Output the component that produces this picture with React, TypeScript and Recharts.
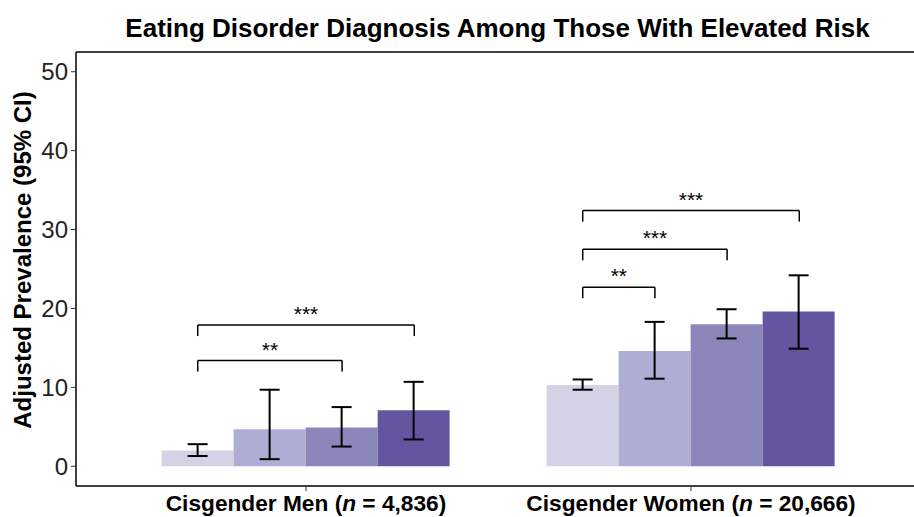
import {
  BarChart,
  Bar,
  XAxis,
  YAxis,
  ErrorBar,
  ReferenceLine,
} from "recharts";

// groups on the x axis
const categories = ["Cisgender Men", "Cisgender Women"];
const sampleSizes = ["4,836", "20,666"];

// adjusted prevalence (%) per risk group, one value per category
const group1 = [2.0, 10.3];
const group2 = [4.7, 14.6];
const group3 = [4.9, 18.0];
const group4 = [7.1, 19.6];

// 95% CI bounds
const lower1 = [1.3, 9.7];
const upper1 = [2.8, 11.0];
const lower2 = [0.9, 11.1];
const upper2 = [9.7, 18.3];
const lower3 = [2.5, 16.2];
const upper3 = [7.5, 19.9];
const lower4 = [3.4, 14.9];
const upper4 = [10.7, 24.2];

const yTicks = [0, 10, 20, 30, 40, 50];
const colors = ["#d3d3e8", "#aeaed5", "#8c87bb", "#6355a0"];

// significance brackets: category, first bar, second bar, height, stars
const brackets = [
  { cat: 0, from: 0, to: 2, y: 13.4, label: "**" },
  { cat: 0, from: 0, to: 3, y: 17.9, label: "***" },
  { cat: 1, from: 0, to: 1, y: 22.7, label: "**" },
  { cat: 1, from: 0, to: 2, y: 27.5, label: "***" },
  { cat: 1, from: 0, to: 3, y: 32.4, label: "***" },
];

const values = [group1, group2, group3, group4];
const lows = [lower1, lower2, lower3, lower4];
const highs = [upper1, upper2, upper3, upper4];

const data = categories.map((name, i) => {
  const row: Record<string, unknown> = { name, n: sampleSizes[i], pos: i + 1 };
  values.forEach((v, g) => {
    row[`g${g + 1}`] = v[i];
    row[`e${g + 1}`] = [v[i] - lows[g][i], highs[g][i] - v[i]];
  });
  return row;
});

// bars take 75% of each band, four bars side by side
const BAR_W = 0.75 / 4;
const barX = (cat: number, bar: number) => cat + 1 + (bar - 1.5) * BAR_W;
const DROP = 1.4;
const PAD = { left: 37.5, right: 30.5 };

const CatTick = (props: any) => {
  const { x, y, payload } = props;
  const n = sampleSizes[payload.index];
  return (
    <text x={x} y={y} dy={18} textAnchor="middle" fontSize={22.7} fontWeight="bold" fill="#000">
      <tspan>{payload.value} (</tspan>
      <tspan fontStyle="italic">n</tspan>
      <tspan> = {n})</tspan>
    </text>
  );
};

export default function App() {
  return (
    <div
      style={{
        position: "absolute",
        left: 0,
        top: 0,
        width: 914,
        height: 517,
        background: "#fff",
        fontFamily: '"Liberation Sans", Arial, sans-serif',
      }}
    >
      <div
        style={{
          position: "absolute",
          left: 76,
          width: 843,
          top: 13,
          textAlign: "center",
          fontSize: 26,
          fontWeight: "bold",
          lineHeight: "30px",
          color: "#000",
        }}
      >
        Eating Disorder Diagnosis Among Those With Elevated Risk
      </div>
      <BarChart
        width={914}
        height={517}
        data={data}
        margin={{ top: 52, right: 0, bottom: 0, left: 0 }}
        barCategoryGap="12.5%"
        barGap={0}
      >
        <XAxis
          dataKey="name"
          height={31}
          padding={PAD}
          tick={<CatTick />}
          tickSize={5}
          tickLine={{ stroke: "#333" }}
          axisLine={{ stroke: "#000", strokeWidth: 1.5 }}
        />
        <XAxis xAxisId="pos" type="number" dataKey="pos" domain={[0.5, 2.5]} padding={PAD} hide allowDataOverflow />
        <YAxis
          width={76}
          domain={[-2.5, 52.5]}
          ticks={yTicks}
          allowDataOverflow
          tickSize={5}
          tickMargin={3}
          tick={{ fontSize: 24, fill: "#222" }}
          tickLine={{ stroke: "#333" }}
          axisLine={{ stroke: "#000", strokeWidth: 1.5 }}
          label={{
            content: () => (
              <text
                x={22}
                y={260}
                transform="rotate(-90 22 260)"
                textAnchor="middle"
                dominantBaseline="central"
                fontSize={24}
                fontWeight="bold"
                fill="#000"
              >
                Adjusted Prevalence (95% CI)
              </text>
            ),
          }}
        />
        <ReferenceLine y={52.5} stroke="#000" strokeWidth={1.5} ifOverflow="visible" />
        {values.map((_, g) => (
          <Bar key={g} dataKey={`g${g + 1}`} fill={colors[g]} isAnimationActive={false}>
            <ErrorBar
              dataKey={`e${g + 1}`}
              direction="y"
              width={10}
              stroke="#000"
              strokeWidth={2}
              isAnimationActive={false}
            />
          </Bar>
        ))}
        {brackets.map((b, i) => {
          const x1 = barX(b.cat, b.from);
          const x2 = barX(b.cat, b.to);
          return [
            <ReferenceLine
              key={`h${i}`}
              xAxisId="pos"
              segment={[{ x: x1, y: b.y }, { x: x2, y: b.y }]}
              stroke="#000"
              strokeWidth={1.5}
              ifOverflow="visible"
              label={{ value: b.label, position: "top", fontSize: 21, fill: "#000", offset: 4 }}
            />,
            <ReferenceLine
              key={`l${i}`}
              xAxisId="pos"
              segment={[{ x: x1, y: b.y }, { x: x1, y: b.y - DROP }]}
              stroke="#000"
              strokeWidth={1.5}
              ifOverflow="visible"
            />,
            <ReferenceLine
              key={`r${i}`}
              xAxisId="pos"
              segment={[{ x: x2, y: b.y }, { x: x2, y: b.y - DROP }]}
              stroke="#000"
              strokeWidth={1.5}
              ifOverflow="visible"
            />,
          ];
        })}
      </BarChart>
    </div>
  );
}
